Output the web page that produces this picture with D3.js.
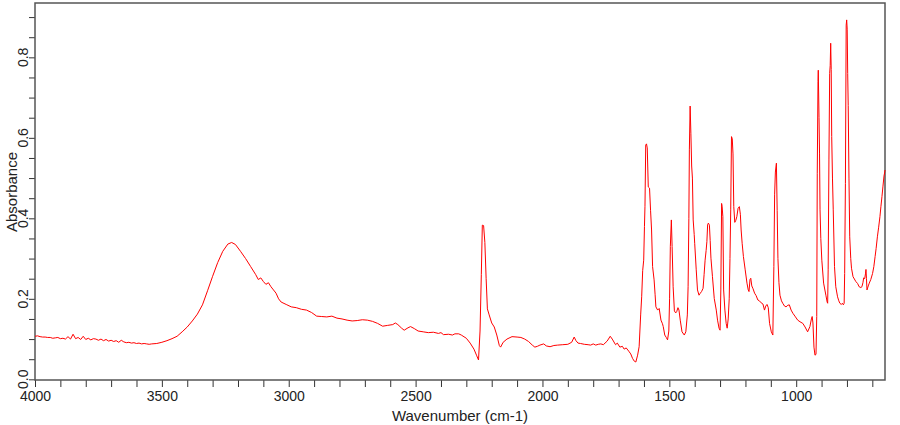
<!DOCTYPE html>
<html>
<head>
<meta charset="utf-8">
<script src="https://cdn.jsdelivr.net/npm/d3@7"></script>
<style>
  body { margin: 0; background: #fff; }
  svg { display: block; }
  text { font-family: "Liberation Sans", Arial, sans-serif; fill: #222; }
</style>
</head>
<body>
<svg width="900" height="425"></svg>
<script>
// spectrum (cm-1, absorbance)
const wavenumber = [
  4000, 3990, 3980, 3970, 3960, 3950, 3940, 3930, 3920, 3910, 3900, 3890, 3880, 3870, 3860, 3850,
  3840, 3830, 3820, 3810, 3800, 3790, 3780, 3770, 3760, 3750, 3740, 3730, 3720, 3710, 3700, 3690,
  3680, 3670, 3660, 3650, 3640, 3630, 3620, 3610, 3600, 3590, 3580, 3570, 3560, 3550, 3540, 3520,
  3500, 3480, 3460, 3440, 3420, 3400, 3380, 3360, 3340, 3320, 3300, 3280, 3260, 3240, 3225, 3210,
  3190, 3170, 3150, 3130, 3120, 3110, 3100, 3090, 3080, 3070, 3060, 3050, 3040, 3030, 3010, 2990,
  2970, 2950, 2930, 2910, 2890, 2870, 2850, 2830, 2810, 2790, 2770, 2750, 2730, 2710, 2690, 2670,
  2650, 2630, 2610, 2590, 2580, 2570, 2555, 2545, 2530, 2520, 2505, 2490, 2470, 2450, 2430, 2410,
  2400, 2390, 2370, 2355, 2345, 2330, 2320, 2300, 2285, 2270, 2260, 2252, 2246, 2241, 2237, 2232,
  2227, 2222, 2217, 2210, 2200, 2190, 2180, 2170, 2165, 2155, 2140, 2120, 2100, 2085, 2070, 2055,
  2040, 2030, 2020, 2010, 1995, 1985, 1970, 1955, 1940, 1920, 1900, 1885, 1875, 1868, 1860, 1850,
  1835, 1820, 1810, 1800, 1790, 1780, 1770, 1760, 1745, 1733, 1725, 1712, 1705, 1695, 1685, 1678,
  1670, 1660, 1652, 1645, 1638, 1632, 1625, 1619, 1613, 1609, 1605, 1601, 1598, 1596, 1593, 1590,
  1587, 1583, 1578, 1574, 1570, 1566, 1560, 1556, 1553, 1546, 1540, 1533, 1527, 1524, 1518, 1512,
  1507, 1502, 1499, 1496, 1492, 1489, 1485, 1480, 1475, 1471, 1466, 1462, 1457, 1450, 1441, 1435,
  1429, 1426, 1423, 1421, 1418, 1415, 1412, 1409, 1406, 1402, 1400, 1394, 1389, 1383, 1378, 1373,
  1367, 1363, 1359, 1355, 1352, 1349, 1346, 1342, 1339, 1336, 1330, 1323, 1315, 1310, 1304, 1300,
  1297, 1294, 1292, 1289, 1286, 1281, 1276, 1272, 1268, 1264, 1261, 1258, 1255, 1252, 1249, 1246,
  1242, 1238, 1234, 1229, 1224, 1220, 1217, 1213, 1208, 1201, 1194, 1189, 1186, 1182, 1179, 1175,
  1170, 1164, 1158, 1151, 1145, 1138, 1131, 1125, 1120, 1115, 1110, 1105, 1098, 1092, 1088, 1085,
  1082, 1078, 1075, 1072, 1068, 1064, 1058, 1053, 1046, 1040, 1033, 1027, 1020, 1013, 1005, 994,
  985, 974, 965, 955, 946, 940, 937, 934, 930, 926, 922, 919, 917, 914, 913, 910,
  908, 906, 903, 899, 892, 883, 878, 876, 874, 871, 868, 866, 864, 862, 860, 857,
  854, 849, 844, 837, 832, 828, 822, 818, 814, 811, 809, 806, 803, 801, 799, 797,
  795, 792, 789, 785, 782, 776, 765, 758, 752, 745, 741, 737, 734, 730, 727, 725,
  723, 721, 716, 712, 706, 699, 694, 689, 685, 680, 675, 670, 666, 662, 658, 654,
  651, 650
];
const absorbance = [
  0.107, 0.108, 0.106, 0.105, 0.105, 0.104, 0.104, 0.102, 0.103, 0.104, 0.101, 0.102, 0.100, 0.106, 0.100, 0.112,
  0.101, 0.104, 0.099, 0.107, 0.099, 0.102, 0.098, 0.101, 0.100, 0.097, 0.100, 0.096, 0.099, 0.095, 0.097, 0.094,
  0.096, 0.092, 0.097, 0.093, 0.091, 0.092, 0.090, 0.091, 0.089, 0.090, 0.088, 0.089, 0.088, 0.087, 0.088, 0.089,
  0.092, 0.096, 0.101, 0.107, 0.118, 0.130, 0.145, 0.162, 0.185, 0.220, 0.256, 0.290, 0.318, 0.336, 0.340, 0.335,
  0.318, 0.300, 0.280, 0.260, 0.248, 0.252, 0.243, 0.236, 0.240, 0.230, 0.222, 0.214, 0.200, 0.192, 0.186, 0.180,
  0.178, 0.174, 0.172, 0.166, 0.157, 0.156, 0.155, 0.157, 0.152, 0.150, 0.147, 0.145, 0.146, 0.148, 0.147, 0.144,
  0.139, 0.132, 0.134, 0.136, 0.140, 0.136, 0.127, 0.122, 0.128, 0.131, 0.126, 0.120, 0.118, 0.116, 0.117, 0.114,
  0.116, 0.111, 0.112, 0.110, 0.113, 0.113, 0.110, 0.102, 0.090, 0.075, 0.060, 0.048, 0.120, 0.260, 0.383, 0.382,
  0.340, 0.250, 0.175, 0.160, 0.140, 0.130, 0.110, 0.084, 0.080, 0.092, 0.100, 0.106, 0.105, 0.104, 0.100, 0.094,
  0.085, 0.080, 0.082, 0.085, 0.088, 0.083, 0.081, 0.084, 0.085, 0.086, 0.087, 0.092, 0.105, 0.096, 0.090, 0.089,
  0.087, 0.086, 0.085, 0.088, 0.085, 0.087, 0.088, 0.086, 0.095, 0.107, 0.100, 0.086, 0.090, 0.080, 0.082, 0.075,
  0.078, 0.070, 0.063, 0.052, 0.045, 0.043, 0.060, 0.081, 0.160, 0.205, 0.270, 0.296, 0.380, 0.430, 0.582, 0.585,
  0.575, 0.478, 0.475, 0.420, 0.371, 0.280, 0.247, 0.210, 0.180, 0.172, 0.176, 0.147, 0.138, 0.131, 0.110, 0.104,
  0.098, 0.120, 0.200, 0.330, 0.396, 0.330, 0.230, 0.170, 0.165, 0.168, 0.178, 0.172, 0.147, 0.118, 0.110, 0.118,
  0.160, 0.230, 0.400, 0.570, 0.679, 0.610, 0.530, 0.500, 0.396, 0.360, 0.338, 0.272, 0.222, 0.209, 0.214, 0.218,
  0.226, 0.260, 0.296, 0.320, 0.342, 0.385, 0.388, 0.383, 0.345, 0.301, 0.255, 0.201, 0.172, 0.147, 0.127, 0.122,
  0.222, 0.437, 0.430, 0.404, 0.222, 0.172, 0.139, 0.127, 0.150, 0.200, 0.300, 0.421, 0.603, 0.598, 0.560, 0.429,
  0.390, 0.395, 0.404, 0.425, 0.429, 0.410, 0.371, 0.338, 0.305, 0.272, 0.239, 0.222, 0.218, 0.248, 0.251, 0.232,
  0.225, 0.214, 0.208, 0.197, 0.195, 0.190, 0.187, 0.172, 0.182, 0.186, 0.178, 0.139, 0.118, 0.110, 0.280, 0.460,
  0.515, 0.537, 0.420, 0.300, 0.240, 0.209, 0.195, 0.189, 0.182, 0.180, 0.184, 0.185, 0.172, 0.164, 0.157, 0.147,
  0.143, 0.139, 0.130, 0.118, 0.131, 0.150, 0.156, 0.140, 0.080, 0.060, 0.062, 0.156, 0.512, 0.740, 0.768, 0.650,
  0.560, 0.421, 0.350, 0.296, 0.239, 0.209, 0.192, 0.189, 0.272, 0.545, 0.760, 0.780, 0.835, 0.770, 0.603, 0.500,
  0.421, 0.280, 0.230, 0.205, 0.195, 0.189, 0.186, 0.189, 0.185, 0.189, 0.263, 0.487, 0.880, 0.893, 0.870, 0.760,
  0.680, 0.500, 0.354, 0.300, 0.276, 0.255, 0.243, 0.238, 0.230, 0.228, 0.230, 0.240, 0.252, 0.250, 0.262, 0.273,
  0.250, 0.222, 0.232, 0.239, 0.248, 0.263, 0.280, 0.305, 0.325, 0.354, 0.378, 0.404, 0.430, 0.454, 0.480, 0.505,
  0.515, 0.520
];

const xTickLabels = [4000, 3500, 3000, 2500, 2000, 1500, 1000];
const yTickLabels = [0.0, 0.2, 0.4, 0.6, 0.8];
const xTitle = "Wavenumber (cm-1)";
const yTitle = "Absorbance";

let width = 900;
let height = 425;
let margin = { top: 3, right: 15, bottom: 45, left: 35 };

let svg = d3.select("svg");

let data = wavenumber.map((w, i) => ({ w: w, a: absorbance[i] }));

let x = d3.scaleLinear()
    .domain([4000, 650])
    .range([margin.left, width - margin.right]);

let y = d3.scaleLinear()
    .domain([-0.0017, 0.935])
    .range([height - margin.bottom, margin.top]);

// minor ticks every 100 cm-1 / 0.05, labels only on the major ones
let xTicks = d3.range(4000, 649, -100);
let yTicks = d3.range(0, 19).map(i => +(i * 0.05).toFixed(2));

let xAxis = svg.append("g")
    .attr("class", "x axis")
    .attr("transform", `translate(0,${height - margin.bottom})`)
    .call(d3.axisBottom(x)
        .tickValues(xTicks)
        .tickSize(7)
        .tickPadding(4)
        .tickFormat(d => xTickLabels.includes(d) ? d : ""));

xAxis.selectAll("text")
    .style("font-size", "14px")
    .style("fill", "#222");

let yAxis = svg.append("g")
    .attr("class", "y axis")
    .attr("transform", `translate(${margin.left},0)`)
    .call(d3.axisLeft(y)
        .tickValues(yTicks)
        .tickSize(6)
        .tickFormat(""));

svg.selectAll(".axis .domain").style("display", "none");
svg.selectAll(".axis line").style("stroke", "#333");

// rotated y labels
svg.selectAll(".ylab")
    .data(yTickLabels)
    .join("text")
    .attr("class", "ylab")
    .attr("transform", d => `translate(28,${y(d)}) rotate(-90)`)
    .attr("text-anchor", "middle")
    .style("font-size", "14px")
    .text(d => d3.format(".1f")(d));

// plot frame
svg.append("rect")
    .attr("x", margin.left)
    .attr("y", margin.top)
    .attr("width", width - margin.left - margin.right)
    .attr("height", height - margin.top - margin.bottom)
    .style("fill", "none")
    .style("stroke", "#555")
    .style("stroke-width", 1.5);

let line = d3.line()
    .x(d => x(d.w))
    .y(d => y(d.a));

svg.append("path")
    .datum(data)
    .attr("d", line)
    .style("fill", "none")
    .style("stroke", "#ff0000")
    .style("stroke-width", 1)
    .style("stroke-linejoin", "round");

svg.append("text")
    .attr("x", 460)
    .attr("y", 421)
    .attr("text-anchor", "middle")
    .style("font-size", "15px")
    .text(xTitle);

svg.append("text")
    .attr("transform", `translate(17,192) rotate(-90)`)
    .attr("text-anchor", "middle")
    .style("font-size", "15px")
    .text(yTitle);
</script>
</body>
</html>
